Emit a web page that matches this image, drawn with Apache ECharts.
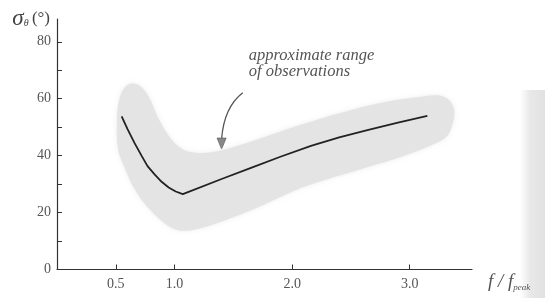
<!DOCTYPE html>
<html>
<head>
<meta charset="utf-8">
<script src="https://cdn.jsdelivr.net/npm/echarts@6/dist/echarts.min.js"></script>
<style>
  html, body { margin: 0; padding: 0; background: #fff; }
  #chart { width: 545px; height: 298px; }
</style>
</head>
<body>
<div id="chart"></div>
<script>
// mean spreading curve  [f/fpeak, sigma]
var curve = [
  [0.55, 53.8], [0.60, 49.3], [0.66, 44.4], [0.72, 39.9], [0.77, 36.3],
  [0.83, 33.4], [0.89, 30.8], [0.95, 28.8], [1.01, 27.4], [1.07, 26.5],
  [1.40, 31.8], [1.65, 35.7], [1.90, 39.6], [2.16, 43.4], [2.40, 46.4],
  [2.64, 49.0], [2.90, 51.6], [3.15, 54.0]
];
// outline of the shaded range of observations (upper edge, then lower edge back)
var bandUpper = [
  [0.52, 42.1], [0.51, 52.6], [0.53, 59.7], [0.57, 63.6], [0.63, 65.3],
  [0.70, 64.6], [0.78, 60.7], [0.86, 53.3], [0.95, 47.0], [1.06, 42.4],
  [1.18, 41.0], [1.34, 41.4], [1.48, 42.8], [1.65, 44.9], [2.08, 50.9],
  [2.42, 55.1], [2.76, 58.6], [3.10, 60.7], [3.25, 61.1], [3.34, 59.3],
  [3.38, 55.5]
];
var bandLower = [
  [3.36, 50.5], [3.32, 47.0], [3.23, 44.5], [2.93, 39.6], [2.65, 36.1],
  [2.08, 28.7], [1.74, 22.4], [1.57, 19.5], [1.37, 16.4], [1.23, 14.6],
  [1.06, 13.6], [0.95, 15.3], [0.80, 20.6], [0.66, 28.3], [0.57, 36.4]
];
var xTicks = [0.5, 1.0, 2.0, 3.0];
var yTicks = [0, 10, 20, 30, 40, 50, 60, 70, 80];
var yLabels = [0, 20, 40, 60, 80];

var serif = '"Liberation Serif", "DejaVu Serif", serif';
var chart = echarts.init(document.getElementById('chart'));

chart.setOption({
  backgroundColor: '#fff',
  animation: false,
  grid: { left: 57, right: 73, top: 19, bottom: 28.5 },
  xAxis: {
    type: 'value',
    min: 0,
    max: 3.53,
    splitLine: { show: false },
    axisLine: { lineStyle: { color: '#333', width: 1.2 } },
    axisTick: { inside: true, length: 5, customValues: xTicks, lineStyle: { color: '#333' } },
    axisLabel: {
      customValues: xTicks,
      margin: 8,
      color: '#555',
      fontFamily: serif,
      fontSize: 14,
      formatter: function (v) { return v.toFixed(1); }
    },
    name: '{i|f / f}{s|peak}',
    nameLocation: 'end',
    nameGap: 16,
    nameTextStyle: {
      align: 'left',
      verticalAlign: 'top',
      padding: [2, 0, 0, 0],
      rich: {
        i: { fontFamily: serif, fontStyle: 'italic', fontSize: 19, color: '#555' },
        s: { fontFamily: serif, fontStyle: 'italic', fontSize: 9, color: '#555', padding: [12, 0, 0, 0] }
      }
    }
  },
  yAxis: {
    type: 'value',
    min: 0,
    max: 88,
    splitLine: { show: false },
    axisLine: { lineStyle: { color: '#333', width: 1.2 } },
    axisTick: { inside: true, length: 5, customValues: yTicks, lineStyle: { color: '#333' } },
    axisLabel: {
      customValues: yLabels,
      margin: 6,
      color: '#555',
      fontFamily: serif,
      fontSize: 14
    },
    name: '{g|σ}{s|θ} {n|(°)}',
    nameLocation: 'end',
    nameGap: 0,
    nameTextStyle: {
      align: 'right',
      verticalAlign: 'middle',
      padding: [0, 7, 0, 0],
      rich: {
        g: { fontFamily: serif, fontStyle: 'italic', fontSize: 23, color: '#444' },
        s: { fontFamily: serif, fontStyle: 'italic', fontSize: 10, color: '#444', padding: [9, 0, 0, 0] },
        n: { fontFamily: serif, fontSize: 17, color: '#444' }
      }
    }
  },
  series: [
    {
      type: 'custom',
      coordinateSystem: 'cartesian2d',
      data: [[0, 0]],
      z: 1,
      silent: true,
      renderItem: function (params, api) {
        var pts = bandUpper.concat(bandLower).map(function (p) { return api.coord(p); });
        return {
          type: 'polygon',
          shape: { points: pts, smooth: 0.35 },
          style: { fill: '#e4e4e4', shadowBlur: 4, shadowColor: '#ececec' }
        };
      }
    },
    {
      type: 'line',
      data: curve,
      z: 3,
      symbol: 'none',
      smooth: false,
      lineStyle: { color: '#222', width: 1.8 }
    }
  ]
});

// annotation, anchored in data space
function px(p) { return chart.convertToPixel({ gridIndex: 0 }, p); }
var txt = px([1.64, 74.5]);
var a0 = px([1.58, 62.1]);
var ac = px([1.42, 57.0]);
var tip = px([1.40, 42.3]);
var a1 = [tip[0], tip[1] - 10];

chart.setOption({
  graphic: [
    {
      type: 'text',
      left: txt[0] - 1,
      top: txt[1] - 10,
      style: {
        text: 'approximate range\nof observations',
        font: 'italic 16.5px ' + serif,
        fill: '#555',
        lineHeight: 15.5
      }
    },
    {
      type: 'bezierCurve',
      shape: { x1: a0[0], y1: a0[1], cpx1: ac[0], cpy1: ac[1], x2: a1[0], y2: a1[1] },
      style: { stroke: '#555', lineWidth: 1.3, fill: null }
    },
    {
      type: 'polygon',
      shape: { points: [[a1[0] - 4.5, a1[1] - 1], [a1[0] + 4.5, a1[1] - 1], [tip[0], tip[1]]] },
      style: { fill: '#888', stroke: '#666', lineWidth: 0.8 }
    },
    {
      type: 'rect',
      shape: { x: 520, y: 90, width: 25, height: 208 },
      style: {
        fill: new echarts.graphic.LinearGradient(0, 0, 1, 0, [
          { offset: 0, color: 'rgba(230,230,230,0)' },
          { offset: 0.4, color: 'rgba(230,230,230,0.9)' },
          { offset: 1, color: 'rgba(225,225,225,1)' }
        ])
      },
      z: -1
    }
  ]
});
</script>
</body>
</html>
